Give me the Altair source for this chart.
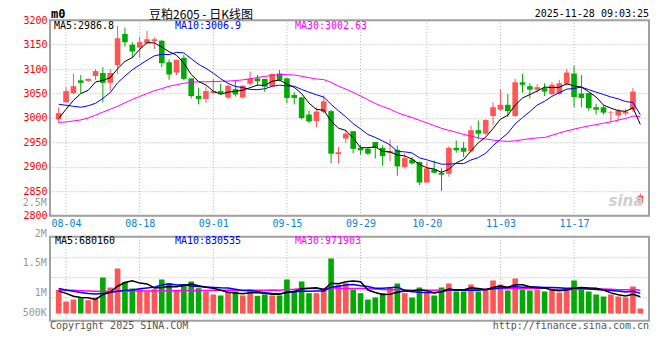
import altair as alt
import pandas as pd

# ---------------- data ----------------
dates = [
    "08-01", "08-04", "08-05", "08-06", "08-07", "08-08", "08-11", "08-12", "08-13", "08-14",
    "08-15", "08-18", "08-19", "08-20", "08-21", "08-22", "08-25", "08-26", "08-27", "08-28",
    "08-29", "09-01", "09-02", "09-03", "09-04", "09-05", "09-08", "09-09", "09-10", "09-11",
    "09-12", "09-15", "09-16", "09-17", "09-18", "09-19", "09-22", "09-23", "09-24", "09-25",
    "09-26", "09-29", "09-30", "10-09", "10-10", "10-13", "10-14", "10-15", "10-16", "10-17",
    "10-20", "10-21", "10-22", "10-23", "10-24", "10-27", "10-28", "10-29", "10-30", "10-31",
    "11-03", "11-04", "11-05", "11-06", "11-07", "11-10", "11-11", "11-12", "11-13", "11-14",
    "11-17", "11-18", "11-19", "11-20", "11-21", "11-24", "11-25", "11-26", "11-27", "11-28",
]
opens = [
    2997, 3032, 3051, 3077, 3076, 3086, 3092, 3072, 3108, 3172,
    3150, 3144, 3153, 3157, 3158, 3114, 3093, 3123, 3081, 3045,
    3039, 3051, 3055, 3042, 3059, 3042, 3070, 3081, 3080, 3065,
    3091, 3081, 3047, 3042, 3007, 2994, 3012, 3014, 2926, 2958,
    2973, 2939, 2937, 2951, 2939, 2928, 2935, 2900, 2915, 2910,
    2868, 2895, 2888, 2886, 2939, 2939, 2932, 2975, 2968, 3004,
    3017, 3027, 3004, 3073, 3065, 3058, 3061, 3049, 3049, 3070,
    3091, 3050, 3051, 3022, 3022, 3011, 3005, 3009, 3017, 2827,
]
highs = [
    3022, 3063, 3090, 3088, 3081, 3100, 3104, 3100, 3188, 3185,
    3155, 3166, 3178, 3165, 3160, 3120, 3119, 3129, 3081, 3062,
    3064, 3080, 3070, 3068, 3077, 3067, 3095, 3088, 3080, 3091,
    3098, 3082, 3053, 3043, 3015, 3022, 3046, 3016, 2941, 2976,
    2973, 2945, 2939, 2951, 2944, 2956, 2944, 2928, 2920, 2911,
    2910, 2913, 2897, 2942, 2954, 2951, 2984, 2995, 2997, 3032,
    3059, 3049, 3080, 3090, 3071, 3069, 3071, 3073, 3078, 3100,
    3107, 3088, 3051, 3029, 3026, 3015, 3019, 3019, 3061, 2846,
]
lows = [
    2990, 3030, 3049, 3051, 3074, 3078, 3032, 3056, 3090, 3146,
    3123, 3123, 3151, 3141, 3104, 3078, 3088, 3077, 3040, 3028,
    3031, 3049, 3048, 3039, 3044, 3040, 3066, 3066, 3053, 3063,
    3075, 3030, 3028, 2997, 2990, 2981, 3009, 2907, 2907, 2949,
    2928, 2925, 2924, 2917, 2902, 2912, 2882, 2897, 2905, 2863,
    2868, 2888, 2851, 2880, 2929, 2920, 2929, 2956, 2965, 2985,
    3015, 3002, 3002, 3052, 3040, 3052, 3045, 3047, 3047, 3066,
    3022, 3022, 3015, 3007, 3007, 2992, 2995, 3005, 3012, 2827,
]
closes = [
    3010, 3055, 3065, 3072, 3080, 3096, 3072, 3092, 3163, 3155,
    3136, 3155, 3161, 3161, 3112, 3089, 3119, 3080, 3045, 3039,
    3055, 3055, 3049, 3066, 3048, 3066, 3081, 3075, 3064, 3090,
    3077, 3041, 3041, 3000, 2993, 3013, 3034, 2927, 2930, 2968,
    2937, 2934, 2927, 2939, 2922, 2932, 2901, 2918, 2907, 2868,
    2897, 2888, 2884, 2939, 2934, 2931, 2975, 2968, 2996, 3022,
    3027, 3014, 3073, 3068, 3058, 3063, 3054, 3068, 3071, 3093,
    3043, 3041, 3020, 3017, 3011, 3012, 3015, 3013, 3054, 2841,
]
volumes = [
    1013000, 514000, 599000, 656000, 571000, 685000, 1541000, 1113000, 1926000, 1356000,
    1070000, 1042000, 942000, 1042000, 1456000, 1284000, 1013000, 1199000, 1370000, 1085000,
    942000, 813000, 771000, 942000, 942000, 771000, 1027000, 756000, 813000, 771000,
    771000, 1456000, 928000, 1370000, 870000, 870000, 1027000, 2355000, 1227000, 1299000,
    1027000, 870000, 599000, 685000, 870000, 1113000, 1284000, 870000, 685000, 1113000,
    942000, 771000, 1113000, 1284000, 942000, 942000, 1241000, 942000, 1027000, 1413000,
    1241000, 985000, 1498000, 1027000, 985000, 1027000, 942000, 1027000, 899000, 1113000,
    1413000, 1113000, 942000, 813000, 728000, 813000, 728000, 685000, 1156000, 214000,
]
# moving-average values before a full window exists
ma5_head = [2999, 3018, 3036, 3050]
ma10_head = [3028, 3026, 3024, 3022, 3025, 3030, 3040, 3052, 3072]
ma30_head = [2991, 2992, 2994, 2996, 3000, 3006, 3012, 3018, 3024, 3031,
             3038, 3044, 3050, 3056, 3060, 3065, 3068, 3071, 3073, 3074,
             3074, 3074.5, 3075, 3075.5, 3076.5, 3078, 3080, 3083, 3085]
vma5_head = [960000, 860000, 740000, 680000]
vma10_head = [1070000, 1010000, 950000, 900000, 860000, 830000, 860000, 900000, 950000]
vma30_head = [1010000, 1000000, 990000, 975000, 960000, 950000, 945000, 945000, 950000, 955000,
              960000, 960000, 965000, 965000, 970000, 975000, 975000, 980000, 985000, 985000,
              985000, 990000, 990000, 990000, 995000, 995000, 995000, 1000000, 1000000]

tick_dates = ["08-04", "08-18", "09-01", "09-15", "09-29", "10-20", "11-03", "11-17"]
price_ticks = [2800, 2850, 2900, 2950, 3000, 3050, 3100, 3150, 3200]
vol_label_text = ["2.5M", "2M", "1.5M", "1M", "500K"]
vol_label_at = [4750000, 3420000, 2150000, 870000, 13000]
vol_grid_at = [685000, 1540000, 2400000]

title_text = "豆粕2605 - 日K线图"
code_text = "m0"
time_text = "2025-11-28 09:03:25"
price_ma_text = ["MA5:2986.8", "MA10:3006.9", "MA30:3002.63"]
vol_ma_text = ["MA5:680160", "MA10:830535", "MA30:971903"]

# ---------------- derived ----------------
def moving(vals, n, head):
    out = list(head)
    for k in range(len(head), len(vals)):
        out.append(sum(vals[k - n + 1:k + 1]) / n)
    return out

N = len(dates)
df = pd.DataFrame({
    "i": list(range(N)), "date": dates,
    "open": opens, "high": highs, "low": lows, "close": closes, "vol": volumes,
    "dir": ["up" if c >= o else "down" for o, c in zip(opens, closes)],
    "ma5": moving(closes, 5, ma5_head),
    "ma10": moving(closes, 10, ma10_head),
    "ma30": moving(closes, 30, ma30_head),
    "vma5": moving(volumes, 5, vma5_head),
    "vma10": moving(volumes, 10, vma10_head),
    "vma30": moving(volumes, 30, vma30_head),
})
tick_idx = [dates.index(d) for d in tick_dates]
ticks_df = pd.DataFrame({"i": tick_idx})

# ---------------- style / layout ----------------
RED = "#ff5555"
GREEN = "#00aa00"
BLUE_LBL = "#0a84d8"
GRID = "#b0b0b0"
BORDER = "#a0a0a0"
MONO = "DejaVu Sans Mono"
CJK = "Noto Sans CJK SC"
W = 599          # plot width
H = 301          # whole plotting height (price panel + gap + volume panel)
P_TOP, P_BOT = 0, 195.6      # price panel (pixels inside the view)
V_TOP, V_BOT = 216.6, 300.6  # volume panel
HEAD_Y = -5.9                # header row, above the price panel

label_expr = "[" + ",".join("'%s'" % d for d in dates) + "][datum.value]"

xscale = alt.Scale(domain=[-0.5, N - 0.5], nice=False, zero=False)
x_axis = alt.Axis(values=tick_idx, labelExpr=label_expr, grid=False, ticks=False, domain=False,
                  labelColor=BLUE_LBL, labelFont=MONO, labelFontSize=10, labelPadding=3,
                  labelFlush=False, labelOverlap=False, title=None, orient="bottom",
                  offset=-(H - P_BOT))
X = alt.X("i:Q", scale=xscale, axis=x_axis)

yscale_p = alt.Scale(domain=[2800, 3200], range=[P_BOT, P_TOP], nice=False, zero=False)
y_axis_p = alt.Axis(values=price_ticks, format="d", grid=True, ticks=False, domain=False,
                    labelColor="#ff0000", labelFont=MONO, labelFontSize=10, labelPadding=3,
                    labelFlush=False, labelOverlap=False, title=None, orient="left")
yscale_v = alt.Scale(domain=[-312000, 3283000], range=[V_BOT, V_TOP], nice=False, zero=False)
y_axis_v = alt.Axis(values=vol_grid_at, labels=False, grid=True, ticks=False, domain=False,
                    title=None, orient="right")

color = alt.Color("dir:N", scale=alt.Scale(domain=["up", "down"], range=[RED, GREEN]), legend=None)


def note(txt, x, y, col="#000000", size=10, font=MONO, align="left", weight="normal", style="normal"):
    return alt.Chart(pd.DataFrame({"t": [txt]})).mark_text(
        align=align, baseline="middle", font=font, fontSize=size, color=col,
        fontWeight=weight, fontStyle=style
    ).encode(text="t:N", x=alt.value(x), y=alt.value(y))


def box(y0, y1):
    return alt.Chart(pd.DataFrame({"k": [0]})).mark_rect(
        fillOpacity=0, stroke=BORDER, strokeWidth=2
    ).encode(x=alt.value(0), x2=alt.value(W), y=alt.value(y0), y2=alt.value(y1))


def vgrid(y0, y1):
    return alt.Chart(ticks_df).mark_rule(color=GRID, strokeDash=[1, 2], strokeWidth=1).encode(
        x=X, y=alt.value(y0), y2=alt.value(y1))


base = alt.Chart(df)


def line(field, col, sw, ys, ya):
    return base.mark_line(color=col, strokeWidth=sw, interpolate="linear").encode(
        x=X, y=alt.Y(field + ":Q", scale=ys, axis=ya))


# ---------------- price panel ----------------
wick = base.mark_rule(strokeWidth=1).encode(
    x=X, y=alt.Y("low:Q", scale=yscale_p, axis=y_axis_p), y2="high:Q", color=color)
body = base.mark_bar(size=5.6).encode(
    x=X, y=alt.Y("open:Q", scale=yscale_p, axis=y_axis_p), y2="close:Q", color=color)
price = alt.layer(
    wick, body,
    line("ma30", "#ff00ff", 1, yscale_p, y_axis_p),
    line("ma10", "#0000ff", 1, yscale_p, y_axis_p),
    line("ma5", "#000000", 1, yscale_p, y_axis_p),
)

# ---------------- volume panel ----------------
vbars = base.mark_bar(size=5.6).encode(
    x=X, y=alt.Y("vol:Q", scale=yscale_v, axis=y_axis_v), y2=alt.datum(0), color=color)
vlabels = alt.Chart(pd.DataFrame({"t": vol_label_text, "vol": vol_label_at})).mark_text(
    align="right", baseline="middle", font=MONO, fontSize=10, color="#999999"
).encode(text="t:N", y=alt.Y("vol:Q", scale=yscale_v, axis=y_axis_v), x=alt.value(-3.3))
volume = alt.layer(
    vbars,
    line("vma30", "#ff00ff", 1.5, yscale_v, y_axis_v),
    line("vma10", "#0000ff", 1.5, yscale_v, y_axis_v),
    line("vma5", "#000000", 1.5, yscale_v, y_axis_v),
    vlabels,
)

chart = alt.layer(
    vgrid(P_TOP, P_BOT), vgrid(V_TOP, V_BOT),
    price, volume,
    box(P_TOP, P_BOT), box(V_TOP, V_BOT),
    note(price_ma_text[0], 4, P_TOP + 6, "#000000"),
    note(price_ma_text[1], 125, P_TOP + 6, "#0000ff"),
    note(price_ma_text[2], 245, P_TOP + 6, "#ff00ff"),
    note(code_text, 1, HEAD_Y, "#000000", size=12, weight="bold"),
    note(title_text, 151, HEAD_Y + 0.3, "#000000", size=12, font=CJK, align="center"),
    note(time_text, W, HEAD_Y, "#000000", align="right"),
    note("sina", 576, 181, "#cfcfcf", size=15, font="DejaVu Sans", align="center",
         weight="bold", style="italic"),
    note(vol_ma_text[0], 5, V_TOP + 4, "#000000"),
    note(vol_ma_text[1], 125, V_TOP + 4, "#0000ff"),
    note(vol_ma_text[2], 245, V_TOP + 4, "#ff00ff"),
    note("Copyright 2025 SINA.COM", 0, V_TOP + 89, "#555555"),
    note("http://finance.sina.com.cn", W, V_TOP + 89, "#555555", align="right"),
).resolve_scale(y="independent").properties(
    width=W, height=H,
    autosize=alt.AutoSizeParams(type="none"),
    padding={"left": 42, "top": 12.2, "right": 3, "bottom": 20},
    background="white",
).configure_view(
    strokeOpacity=0
).configure_axis(
    gridColor=GRID, gridDash=[1, 2], gridWidth=1
)

chart.save("out.html", embed_options={"renderer": "svg", "actions": False})
